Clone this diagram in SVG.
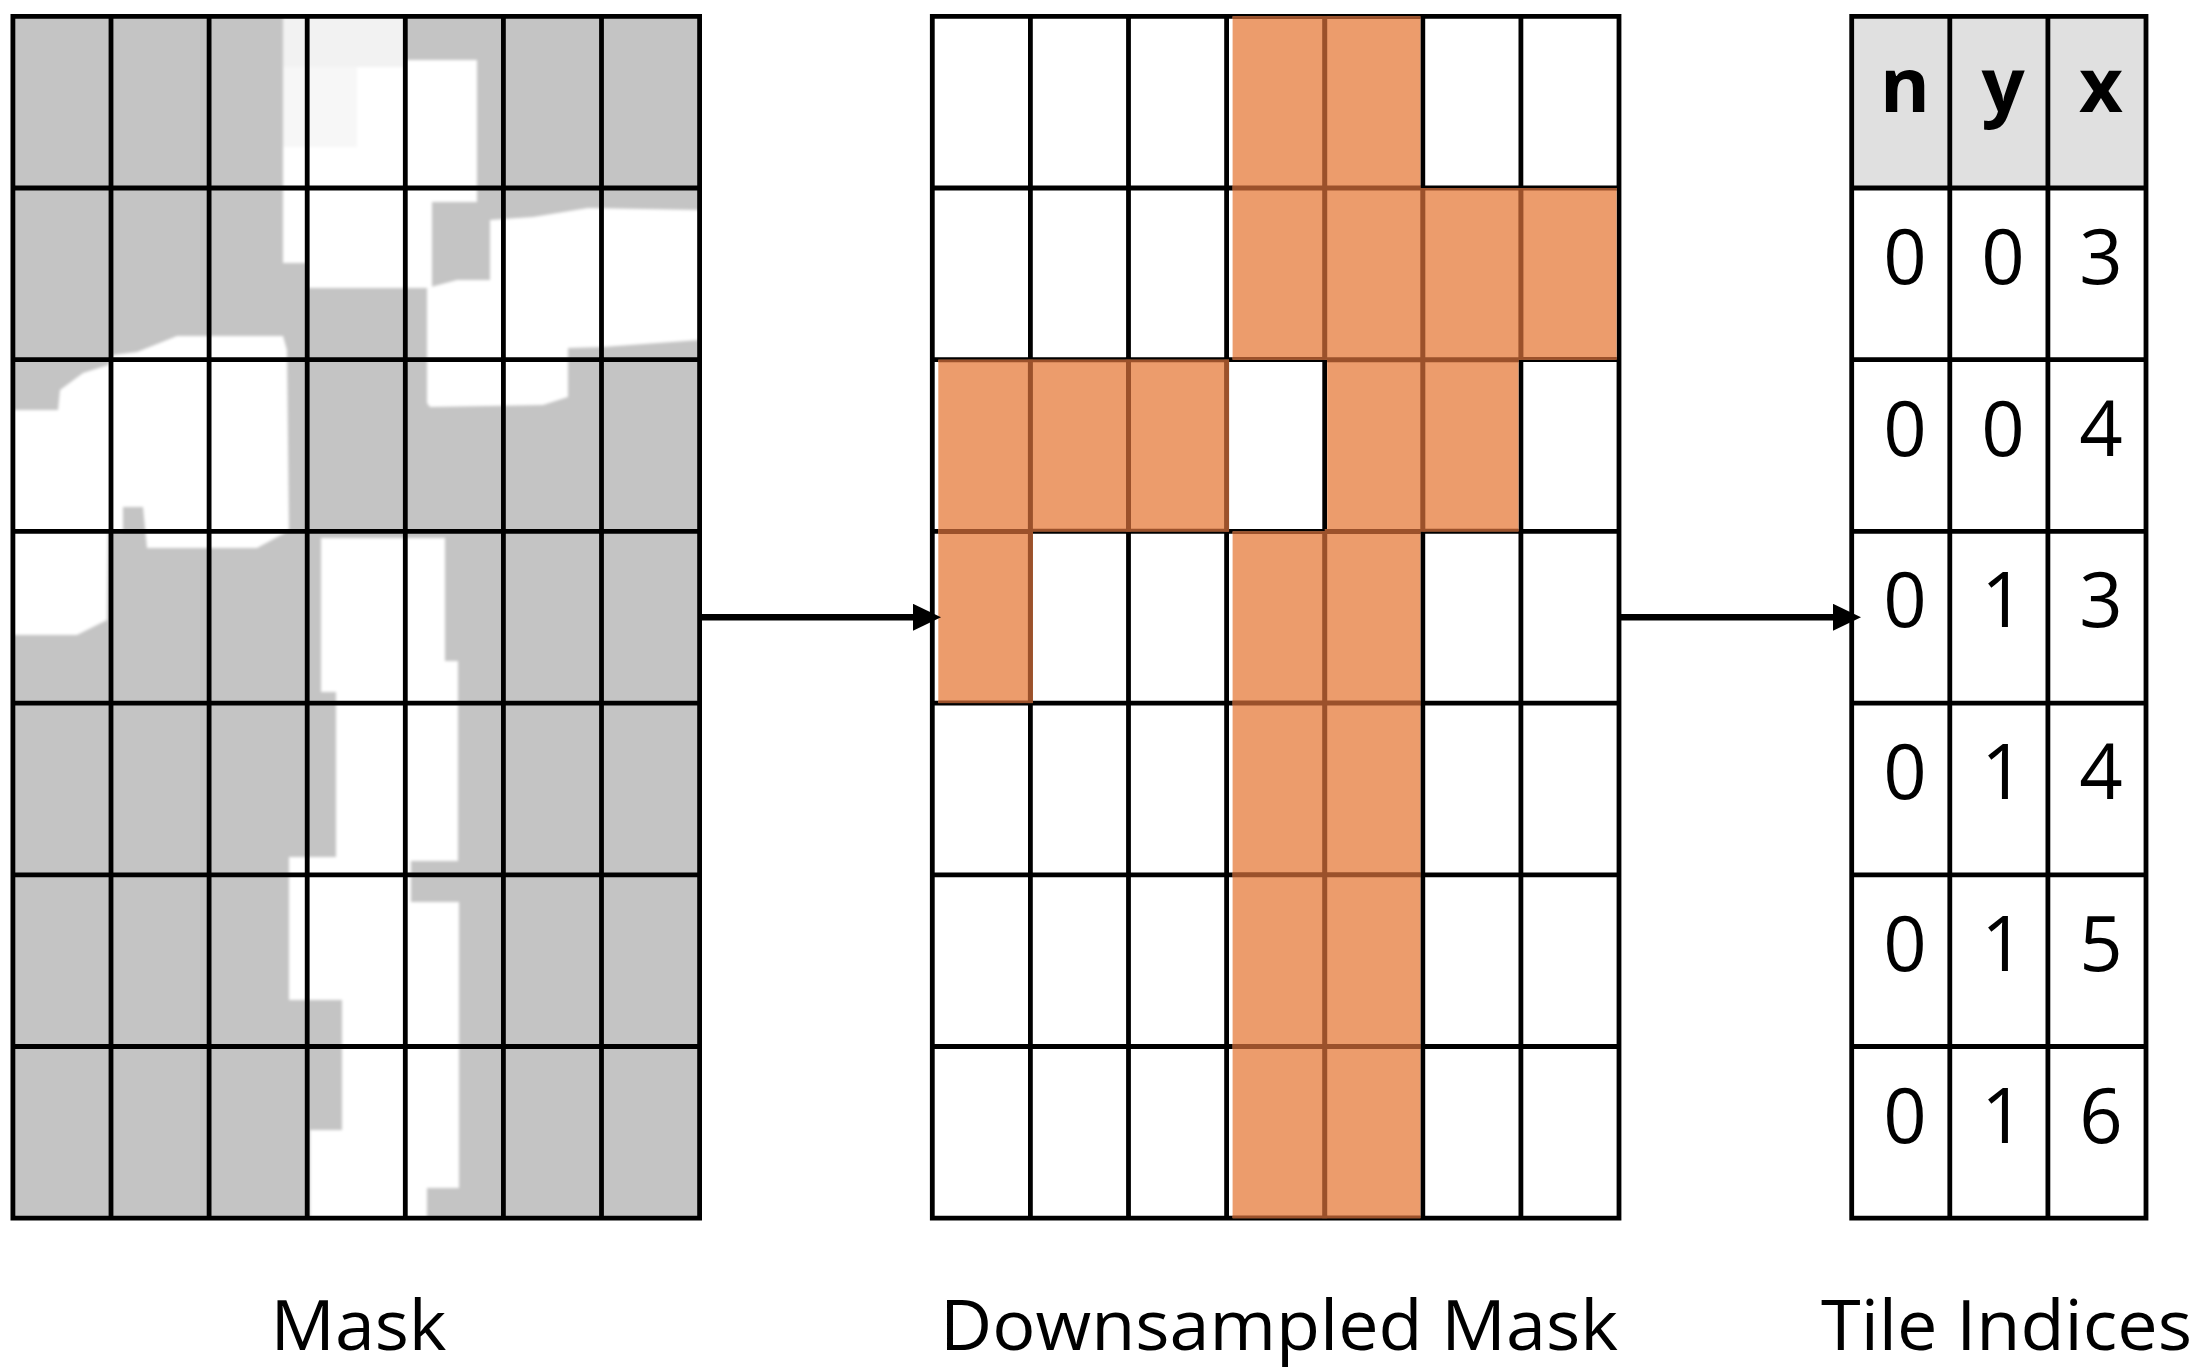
<svg xmlns="http://www.w3.org/2000/svg" width="2198" height="1372" viewBox="0 0 2198 1372">
<defs>
<style>
.grid{fill:none;stroke:#000;stroke-width:4.8;stroke-linecap:square}
.org{fill:#EC9C6C;stroke:none}
.brn{fill:none;stroke:#9B512B;stroke-width:5}
.brt{fill:none;stroke:#9B512B;stroke-width:2.6}
.wh{fill:#fff}
.lbl{font-family:"Open Sans","Liberation Sans",sans-serif;font-size:70px;fill:#000}
.cell{font-family:"Open Sans","Liberation Sans",sans-serif;font-size:76px;fill:#000;text-anchor:middle}
.hdr{font-weight:700}
.conn{stroke:#000;stroke-width:6.5;fill:none}
</style>
<filter id="soft" filterUnits="userSpaceOnUse" x="0" y="0" width="720" height="1240">
<feGaussianBlur stdDeviation="1.4"/>
</filter>
<marker id="ah" markerUnits="userSpaceOnUse" viewBox="0 0 28 27" refX="7" refY="13.5" markerWidth="28" markerHeight="27" orient="auto">
<path d="M0,0 L28,13.5 L0,27 Z" fill="#000"/>
</marker>
</defs>
<rect width="2198" height="1372" fill="#fff"/>

<g id="mask">
<rect x="12.9" y="16.3" width="686.7" height="1201.9" fill="#c4c4c4"/>
<g filter="url(#soft)">
<rect x="283" y="16.3" width="122" height="51" fill="#f2f2f2"/>
<rect x="283" y="67" width="74" height="80" fill="#f7f7f7"/>
<polygon class="wh" points="357,67 405,67 405,60 477,60 477,202 432,202 432,288 307,288 307,263 283,263 283,147 357,147"/>
<polygon class="wh" points="490,220 533,217 588,208 699.6,210 699.6,340 603,347 568,348 568,397 543,405 430,407 427,403 427,288 457,280 490,280"/>
<polygon class="wh" points="12.9,410 58,410 60,390 83,373 108,365 113,355 137,352 177,336 283,336 287,350 289,530 283,534 257,548 147,548 143,507 123,507 123,532 108,532 107,620 77,635 12.9,635"/>
<polygon class="wh" points="321,538 405,538 405,1218.2 310,1218.2 310,1130 342,1130 342,1000 289,1000 289,857 336,857 336,692 321,692"/>
<polygon class="wh" points="405,538 445,538 445,661 458,661 458,861 405,861"/>
<polygon class="wh" points="405,861 411,861 411,902 459,902 459,1188 427,1188 427,1218.2 405,1218.2"/>
</g>
<path class="grid" d="M12.9,16.3 H699.6 V1218.2 H12.9 Z M111,16.3 V1218.2 M209.1,16.3 V1218.2 M307.2,16.3 V1218.2 M405.3,16.3 V1218.2 M503.4,16.3 V1218.2 M601.5,16.3 V1218.2 M12.9,188 H699.6 M12.9,359.7 H699.6 M12.9,531.4 H699.6 M12.9,703.1 H699.6 M12.9,874.8 H699.6 M12.9,1046.5 H699.6"/>
</g>

<g id="downsampled-mask">
<rect x="932.3" y="16.3" width="686.7" height="1201.9" fill="#fff"/>
<path class="grid" d="M932.3,16.3 H1619 V1218.2 H932.3 Z M1030.4,16.3 V1218.2 M1128.5,16.3 V1218.2 M1226.6,16.3 V1218.2 M1324.7,16.3 V1218.2 M1422.8,16.3 V1218.2 M1520.9,16.3 V1218.2 M932.3,188 H1619 M932.3,359.7 H1619 M932.3,531.4 H1619 M932.3,703.1 H1619 M932.3,874.8 H1619 M932.3,1046.5 H1619"/>
<rect class="org" x="1232.6" y="16.3" width="187.8" height="171.7"/>
<rect class="org" x="1232.6" y="188" width="384" height="171.7"/>
<rect class="org" x="938.3" y="359.7" width="290.7" height="171.7"/>
<rect class="org" x="1327.2" y="359.7" width="191.3" height="171.7"/>
<rect class="org" x="938.3" y="531.4" width="94.5" height="171.7"/>
<rect class="org" x="1232.6" y="531.4" width="187.8" height="686.8"/>
<path class="brn" d="M1324.7,16.3 V359.7 M1422.8,188 V531.4 M1520.9,188 V359.7 M1030.4,359.7 V703.1 M1128.5,359.7 V531.4 M1226.6,359.7 V531.4 M1324.7,531.4 V1218.2 M1232.6,188 H1420.4 M1327.2,359.7 H1518.5 M1324.7,531.4 H1420.4 M938.3,531.4 H1032.8 M1232.6,703.1 H1420.4 M1232.6,874.8 H1420.4 M1232.6,1046.5 H1420.4"/>
<path class="brt" d="M1232.6,17.6 H1420.4 M1422.8,189.3 H1616.6 M938.3,361 H1229 M1232.6,532.7 H1324.7 M1232.6,358.4 H1324.7 M1520.9,358.4 H1616.6 M1030.4,530.1 H1229 M1422.8,530.1 H1518.5 M938.3,701.8 H1032.8 M1232.6,1216.9 H1420.4"/>
</g>

<g id="tile-indices">
<rect x="1851.7" y="16.3" width="294.3" height="1201.9" fill="#fff"/>
<rect x="1851.7" y="16.3" width="294.3" height="171.7" fill="#e0e0e0"/>
<path class="grid" d="M1851.7,16.3 H2146 V1218.2 H1851.7 Z M1949.8,16.3 V1218.2 M2047.9,16.3 V1218.2 M1851.7,188 H2146 M1851.7,359.7 H2146 M1851.7,531.4 H2146 M1851.7,703.1 H2146 M1851.7,874.8 H2146 M1851.7,1046.5 H2146"/>
<g class="cell">
<text class="hdr" x="1905" y="112">n</text><text class="hdr" x="2003" y="112">y</text><text class="hdr" x="2101" y="112">x</text>
<text x="1905" y="284">0</text><text x="2003" y="284">0</text><text x="2101" y="284">3</text>
<text x="1905" y="455.7">0</text><text x="2003" y="455.7">0</text><text x="2101" y="455.7">4</text>
<text x="1905" y="627.4">0</text><text x="2003" y="627.4">1</text><text x="2101" y="627.4">3</text>
<text x="1905" y="799.1">0</text><text x="2003" y="799.1">1</text><text x="2101" y="799.1">4</text>
<text x="1905" y="970.8">0</text><text x="2003" y="970.8">1</text><text x="2101" y="970.8">5</text>
<text x="1905" y="1142.5">0</text><text x="2003" y="1142.5">1</text><text x="2101" y="1142.5">6</text>
</g>
</g>

<g id="connectors">
<line class="conn" x1="702" y1="617.3" x2="920" y2="617.3" marker-end="url(#ah)"/>
<line class="conn" x1="1621" y1="617.3" x2="1840" y2="617.3" marker-end="url(#ah)"/>
</g>

<g id="labels">
<text class="lbl" x="270.5" y="1350" textLength="176" lengthAdjust="spacingAndGlyphs">Mask</text>
<text class="lbl" x="940" y="1350" textLength="678" lengthAdjust="spacingAndGlyphs">Downsampled Mask</text>
<text class="lbl" x="1821" y="1350" textLength="371" lengthAdjust="spacingAndGlyphs">Tile Indices</text>
</g>
</svg>
